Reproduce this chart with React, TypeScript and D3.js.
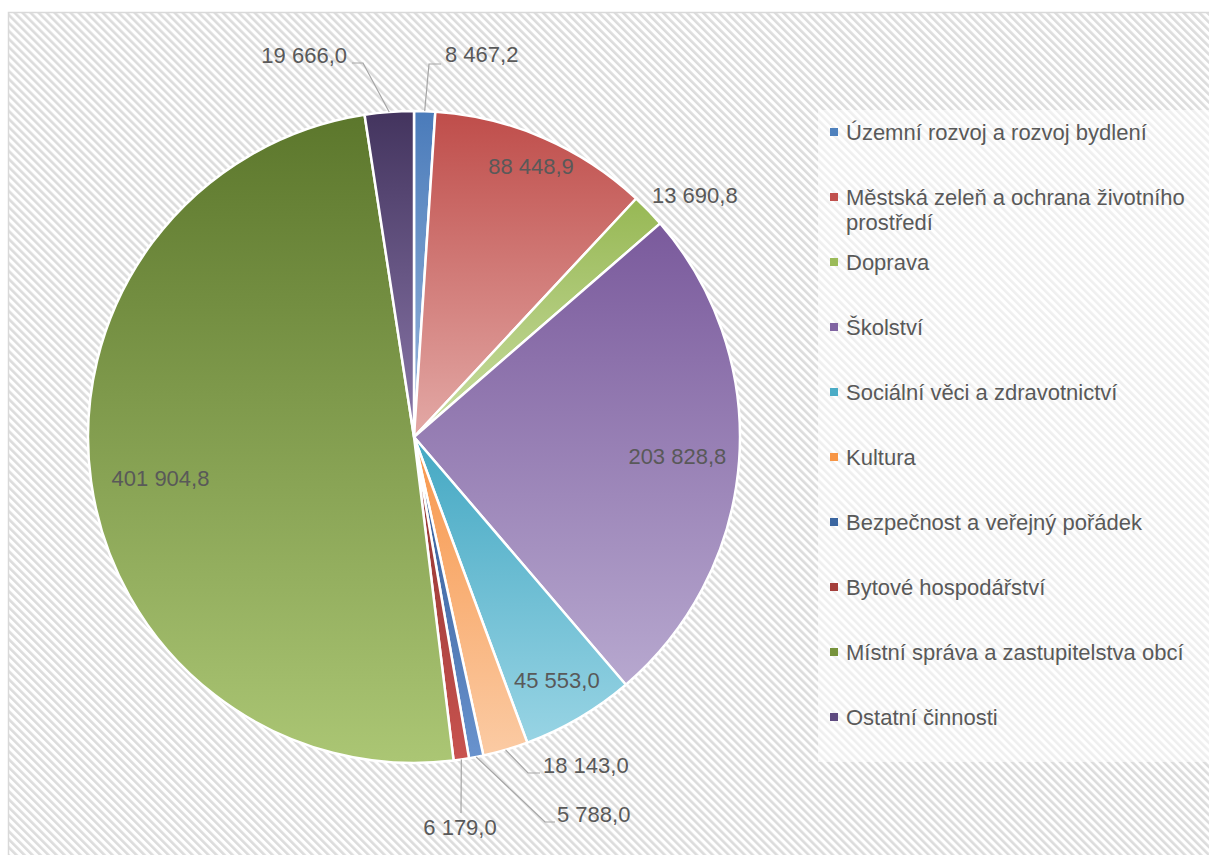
import React from "react";
import * as d3 from "d3";

const categories = [
  "Územní rozvoj a rozvoj bydlení",
  "Městská zeleň a ochrana životního prostředí",
  "Doprava",
  "Školství",
  "Sociální věci a zdravotnictví",
  "Kultura",
  "Bezpečnost a veřejný pořádek",
  "Bytové hospodářství",
  "Místní správa a zastupitelstva obcí",
  "Ostatní činnosti",
];
const values = [8467.2, 88448.9, 13690.8, 203828.8, 45553.0, 18143.0, 5788.0, 6179.0, 401904.8, 19666.0];

// legend lines (wrapped like the reference)
const legendLines = [
  ["Územní rozvoj a rozvoj bydlení"],
  ["Městská zeleň a ochrana životního", "prostředí"],
  ["Doprava"],
  ["Školství"],
  ["Sociální věci a zdravotnictví"],
  ["Kultura"],
  ["Bezpečnost a veřejný pořádek"],
  ["Bytové hospodářství"],
  ["Místní správa a zastupitelstva obcí"],
  ["Ostatní činnosti"],
];

const topColors = ["#4A7BBA", "#BF4D4A", "#97B854", "#7A5A9C", "#44A8C3", "#F7964A", "#2E5490", "#8A302D", "#5C772C", "#43345E"];
const bottomColors = ["#9AB7DD", "#E3A9A6", "#CADEA3", "#B7A8CF", "#98D4E4", "#FBCBA4", "#6993CE", "#C9534F", "#ABC674", "#8B78AA"];
const legendColors = ["#4F81BD", "#C0504D", "#9BBB59", "#8064A2", "#4BACC6", "#F79646", "#3B66A0", "#A43E3B", "#77933C", "#5E4A80"];

// label placement (relative to pie center)
type LL =
  | { type: "inside"; r: number; dy?: number }
  | { type: "free"; text: [number, number]; anchor: string }
  | { type: "leader"; elbow: [number, number]; end: [number, number]; text: [number, number]; anchor: string };
const labelLayout: LL[] = [
  { type: "leader", elbow: [15, -373], end: [27, -373], text: [31, -375], anchor: "start" },
  { type: "inside", r: 0.905 },
  { type: "free", text: [238, -234], anchor: "start" },
  { type: "inside", r: 0.81 },
  { type: "inside", r: 0.865 },
  { type: "leader", elbow: [114, 336], end: [126, 336], text: [129, 336], anchor: "start" },
  { type: "leader", elbow: [131, 385], end: [141, 385], text: [143, 385], anchor: "start" },
  { type: "leader", elbow: [47, 376], end: [47, 376], text: [46, 398], anchor: "middle" },
  { type: "inside", r: 0.785, dy: 6 },
  { type: "leader", elbow: [-51, -374], end: [-62, -374], text: [-67, -374], anchor: "end" },
];

const W = 1209;
const H = 855;
const cx = 414;
const cy = 437;
const R = 326;
const FONT = "'Liberation Sans', Arial, sans-serif";
const TXT = "#595959";

const fmt = d3.formatLocale({ decimal: ",", thousands: " ", grouping: [3], currency: ["", ""] }).format(",.1f");

export default function App() {
  const pie = d3.pie<number>().sort(null).value((d) => d).startAngle(0).endAngle(2 * Math.PI);
  const arcs = pie(values);
  const arc = d3.arc<d3.PieArcDatum<number>>().innerRadius(0).outerRadius(R);

  const polar = (a: number, r: number): [number, number] => [Math.sin(a) * r, -Math.cos(a) * r];

  return (
    <svg width={W} height={H} style={{ position: "absolute", left: 0, top: 0 }} fontFamily={FONT}>
      <defs>
        <pattern id="hatch" patternUnits="userSpaceOnUse" width={5.66} height={5.66} patternTransform="rotate(-45)">
          <rect width={5.66} height={5.66} fill="#ffffff" />
          <rect width={2.6} height={5.66} fill="#dcdcdc" />
        </pattern>
        {arcs.map((_, i) => (
          <linearGradient key={i} id={`g${i}`} x1="0" y1="0" x2="0" y2="1">
            <stop offset="0" stopColor={topColors[i]} />
            <stop offset="1" stopColor={bottomColors[i]} />
          </linearGradient>
        ))}
      </defs>
      <rect x={0} y={0} width={W} height={H} fill="#ffffff" />
      <rect x={8.5} y={12.5} width={W + 20} height={H + 20} fill="url(#hatch)" stroke="#d9d9d9" strokeWidth={1.5} />
      <rect x={818} y={110} width={W - 818 + 10} height={652} fill="#ffffff" opacity={0.55} />

      <g transform={`translate(${cx},${cy})`}>
        {arcs.map((a, i) => (
          <path key={i} d={arc(a) || ""} fill={`url(#g${i})`} stroke="#ffffff" strokeWidth={2.5} strokeLinejoin="round" />
        ))}
        {arcs.map((a, i) => {
          const L = labelLayout[i];
          const mid = (a.startAngle + a.endAngle) / 2;
          const label = fmt(a.data);
          if (L.type === "inside") {
            const [x, y] = polar(mid, R * L.r);
            return (
              <text key={i} x={x} y={y + (L.dy || 0)} dy="0.35em" textAnchor="middle" fontSize={22} fill={TXT}>
                {label}
              </text>
            );
          }
          if (L.type === "free") {
            return (
              <text key={i} x={L.text[0]} y={L.text[1]} textAnchor={L.anchor} fontSize={22} fill={TXT}>
                {label}
              </text>
            );
          }
          const [sx, sy] = polar(mid, R);
          return (
            <g key={i}>
              <polyline
                points={`${sx},${sy} ${L.elbow[0]},${L.elbow[1]} ${L.end[0]},${L.end[1]}`}
                fill="none"
                stroke="#a6a6a6"
                strokeWidth={1.2}
              />
              <text x={L.text[0]} y={L.text[1]} textAnchor={L.anchor} fontSize={22} fill={TXT}>
                {label}
              </text>
            </g>
          );
        })}
      </g>

      <g>
        {categories.map((c, i) => {
          const y = 132 + 65 * i;
          return (
            <g key={c}>
              <rect x={830} y={y - 4} width={8} height={8} fill={legendColors[i]} />
              {legendLines[i].map((ln, j) => (
                <text key={j} x={846} y={y + 25 * j} dy="0.35em" fontSize={22} fill={TXT}>
                  {ln}
                </text>
              ))}
            </g>
          );
        })}
      </g>
    </svg>
  );
}
